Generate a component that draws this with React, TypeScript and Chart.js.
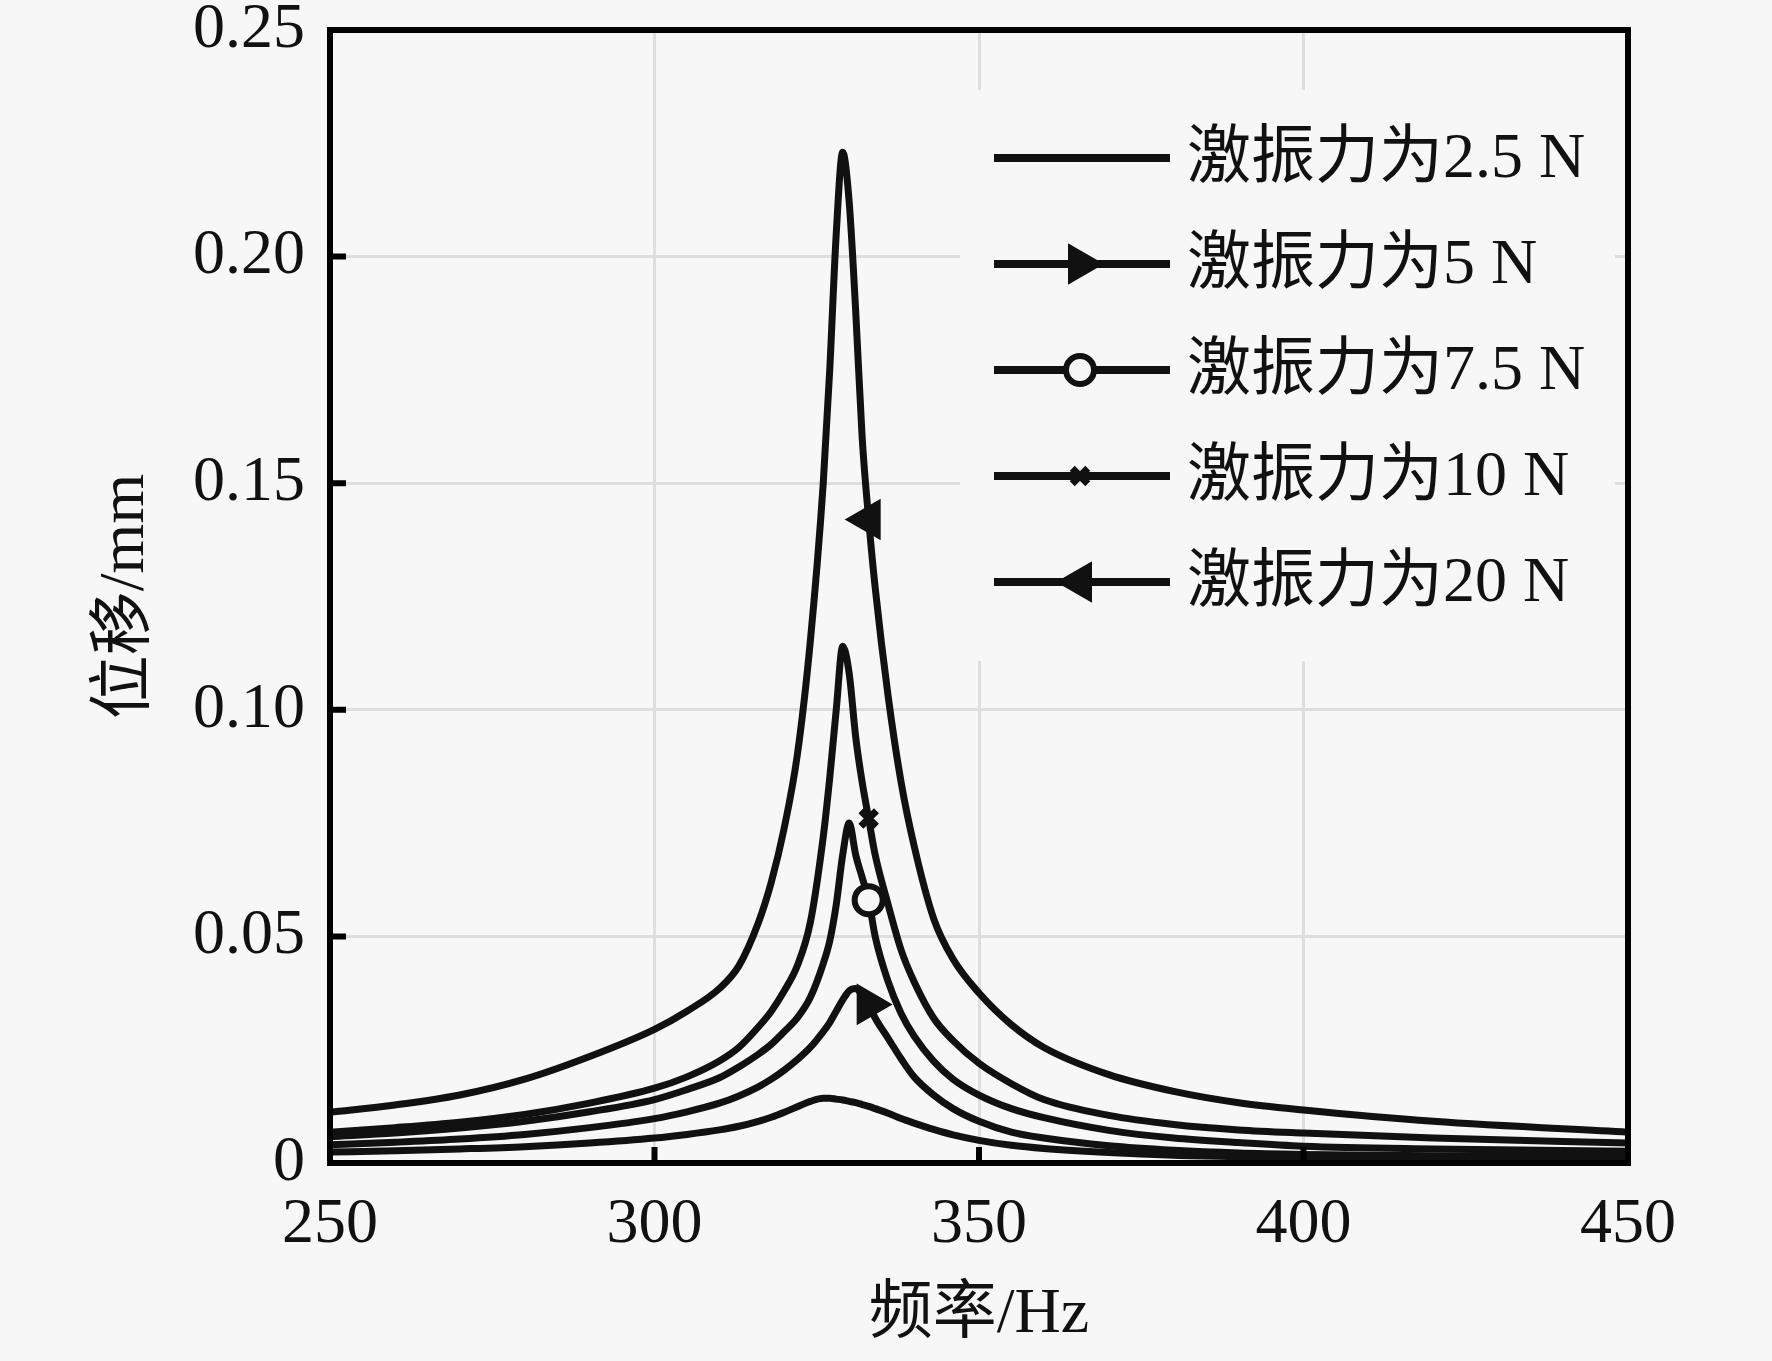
import { useEffect, useRef } from 'react';
import { Chart, ChartConfiguration, Plugin, registerables } from 'chart.js';
import { drawPoint } from 'chart.js/helpers';

Chart.register(...registerables);

// frequency grid (Hz), denser around the resonance
const frequencies = [
  250, 260, 270, 280, 290, 300, 305, 310, 313, 316, 318, 320, 322, 324, 326, 327, 328, 329,
  330, 331, 332, 333, 334, 336, 338, 340, 343, 346, 350, 355, 360, 370, 380, 390, 400, 420, 450,
];

// displacement (mm) for each excitation force
const force2p5 = [
  0.0024, 0.0027, 0.0031, 0.0036, 0.0044, 0.0055, 0.0063, 0.0073, 0.0081, 0.0092, 0.0101, 0.0112,
  0.0124, 0.0136, 0.0143, 0.0143, 0.0141, 0.0139, 0.0136, 0.0133, 0.0129, 0.0125, 0.012, 0.011,
  0.0098, 0.0088, 0.0074, 0.0062, 0.005, 0.0039, 0.0032, 0.0023, 0.0017, 0.0014, 0.0012, 0.0009,
  0.0007,
];
const force5 = [
  0.004, 0.0046, 0.0053, 0.0063, 0.0078, 0.0098, 0.0113, 0.0132, 0.0148, 0.0168, 0.0185, 0.0205,
  0.0228, 0.0255, 0.029, 0.031, 0.0335, 0.036, 0.038, 0.0385, 0.037, 0.035, 0.032, 0.0275, 0.023,
  0.019, 0.015, 0.012, 0.0092, 0.0068, 0.0055, 0.0038, 0.0028, 0.0022, 0.0019, 0.0016, 0.0014,
];
const force7p5 = [
  0.0058, 0.0066, 0.0077, 0.0092, 0.0113, 0.014, 0.0162, 0.0188, 0.0212, 0.024, 0.0262, 0.029,
  0.032, 0.0365, 0.044, 0.049, 0.057, 0.068, 0.075, 0.068, 0.063, 0.058, 0.05, 0.04, 0.033,
  0.028, 0.0225, 0.0185, 0.015, 0.012, 0.01, 0.0072, 0.0055, 0.0045, 0.0037, 0.0031, 0.0026,
];
const force10 = [
  0.0068, 0.0078, 0.009, 0.0107, 0.0132, 0.0165, 0.019, 0.0225, 0.0255, 0.03, 0.0335, 0.038,
  0.0435, 0.053, 0.072, 0.085, 0.1, 0.114, 0.108, 0.094, 0.084, 0.076, 0.068, 0.057, 0.047, 0.04,
  0.032, 0.027, 0.022, 0.0175, 0.014, 0.0105, 0.0085, 0.0073, 0.0066, 0.0055, 0.0044,
];
const force20 = [
  0.0112, 0.0128, 0.015, 0.0185, 0.0235, 0.0295, 0.0335, 0.0385, 0.0435, 0.053, 0.062, 0.074,
  0.09, 0.115, 0.15, 0.175, 0.205, 0.223, 0.212, 0.188, 0.16, 0.142, 0.127, 0.103, 0.084, 0.07,
  0.054, 0.045, 0.0375, 0.0305, 0.0255, 0.0195, 0.0158, 0.0133, 0.0117, 0.0092, 0.0068,
];

const seriesLabels = ['激振力为2.5 N', '激振力为5 N', '激振力为7.5 N', '激振力为10 N', '激振力为20 N'];
const xTicks = [250, 300, 350, 400, 450];
const yTicks = [0, 0.05, 0.1, 0.15, 0.2, 0.25];
const yTickLabels = ['0', '0.05', '0.10', '0.15', '0.20', '0.25'];
const markerFreq = 333;

const BG = '#f7f7f7';
const INK = '#111';
const FONT = '"Liberation Serif", "Noto Sans CJK SC", serif';

const markerIndex = frequencies.indexOf(markerFreq);

// marker look per series (none for 2.5 N)
const markers = [
  null,
  { pointStyle: 'triangle', rotation: 90, radius: 21, borderWidth: 3, fill: INK },
  { pointStyle: 'circle', rotation: 0, radius: 14, borderWidth: 6, fill: BG },
  { pointStyle: 'crossRot', rotation: 0, radius: 11, borderWidth: 7, fill: INK },
  { pointStyle: 'triangle', rotation: -90, radius: 21, borderWidth: 3, fill: INK },
];

const axesAndLegend: Plugin = {
  id: 'axesAndLegend',
  beforeDraw(chart) {
    const { ctx, width, height } = chart;
    ctx.save();
    ctx.fillStyle = BG;
    ctx.fillRect(0, 0, width, height);
    ctx.restore();
  },
  afterDatasetsDraw(chart) {
    const { ctx, chartArea: a, scales } = chart;
    ctx.save();

    // legend (box hides the grid behind it)
    ctx.fillStyle = BG;
    ctx.fillRect(a.left + 630, 90, 655, 571);
    ctx.font = `64px ${FONT}`;
    ctx.textBaseline = 'middle';
    ctx.textAlign = 'left';
    chart.data.datasets.forEach((ds, i) => {
      const y = 158 + i * 106;
      ctx.strokeStyle = INK;
      ctx.lineWidth = 8;
      ctx.beginPath();
      ctx.moveTo(a.left + 664, y);
      ctx.lineTo(a.left + 840, y);
      ctx.stroke();
      const m = markers[i];
      if (m) {
        ctx.fillStyle = m.fill;
        ctx.lineWidth = m.borderWidth;
        drawPoint(ctx, { pointStyle: m.pointStyle as any, rotation: m.rotation, radius: m.radius, borderWidth: m.borderWidth }, a.left + 750, y);
      }
      ctx.fillStyle = INK;
      ctx.fillText(ds.label as string, a.left + 857, y + 2);
    });

    // box frame and inward ticks
    ctx.strokeStyle = '#000';
    ctx.lineWidth = 6;
    ctx.strokeRect(a.left, a.top, a.right - a.left, a.bottom - a.top);
    ctx.beginPath();
    yTicks.forEach((t) => {
      const py = scales.y.getPixelForValue(t);
      ctx.moveTo(a.left, py);
      ctx.lineTo(a.left + 16, py);
    });
    xTicks.forEach((t) => {
      const px = scales.x.getPixelForValue(t);
      ctx.moveTo(px, a.bottom);
      ctx.lineTo(px, a.bottom - 16);
    });
    ctx.stroke();
    ctx.restore();
  },
};

export default function App() {
  const canvasRef = useRef<HTMLCanvasElement>(null);
  const chartRef = useRef<Chart | null>(null);

  useEffect(() => {
    if (!canvasRef.current) return;
    if (chartRef.current) chartRef.current.destroy();

    const series = [force2p5, force5, force7p5, force10, force20];

    const config: ChartConfiguration = {
      type: 'line',
      data: {
        datasets: series.map((vals, i) => {
          const m = markers[i];
          return {
            label: seriesLabels[i],
            data: frequencies.map((f, j) => ({ x: f, y: vals[j] })),
            borderColor: INK,
            borderWidth: 7,
            cubicInterpolationMode: 'monotone',
            pointStyle: (m ? m.pointStyle : 'circle') as any,
            pointRotation: m ? m.rotation : 0,
            pointRadius: (c: any) => (m && c.dataIndex === markerIndex ? m.radius : 0),
            pointBorderWidth: m ? m.borderWidth : 0,
            pointBorderColor: INK,
            pointBackgroundColor: m ? m.fill : INK,
            fill: false,
          };
        }) as any,
      },
      options: {
        responsive: true,
        maintainAspectRatio: false,
        animation: false,
        layout: { padding: { top: 30, right: 144, left: 0, bottom: 0 } },
        plugins: {
          legend: { display: false },
          tooltip: { enabled: false },
        },
        scales: {
          x: {
            type: 'linear',
            min: 250,
            max: 450,
            afterBuildTicks: (s) => {
              s.ticks = xTicks.map((v) => ({ value: v }));
            },
            afterFit: (s) => {
              s.height = 198;
              s.paddingLeft = 0;
              s.paddingRight = 0;
            },
            grid: { color: '#dedede', lineWidth: 3, drawTicks: false },
            border: { display: false },
            ticks: {
              color: INK,
              padding: 24,
              maxRotation: 0,
              font: { family: FONT, size: 64 },
            },
            title: {
              display: true,
              text: '频率/Hz',
              color: INK,
              font: { family: FONT, size: 64 },
              padding: { top: 0, bottom: 7 },
            },
          },
          y: {
            type: 'linear',
            min: 0,
            max: 0.25,
            afterBuildTicks: (s) => {
              s.ticks = yTicks.map((v) => ({ value: v }));
            },
            afterFit: (s) => {
              s.width = 330;
              s.paddingTop = 0;
              s.paddingBottom = 0;
            },
            grid: { color: '#dedede', lineWidth: 3, drawTicks: false },
            border: { display: false },
            ticks: {
              color: INK,
              padding: 25,
              font: { family: FONT, size: 64 },
              callback: (v) => {
                const k = yTicks.findIndex((t) => Math.abs(t - Number(v)) < 1e-9);
                return k >= 0 ? yTickLabels[k] : '';
              },
            },
            title: {
              display: true,
              text: '位移/mm',
              color: INK,
              font: { family: FONT, size: 64 },
              padding: { top: 88, bottom: 0 },
            },
          },
        },
      },
      plugins: [axesAndLegend],
    };

    chartRef.current = new Chart(canvasRef.current, config);

    return () => {
      if (chartRef.current) {
        chartRef.current.destroy();
        chartRef.current = null;
      }
    };
  }, []);

  return (
    <div style={{ position: 'absolute', left: 0, top: 0, width: 1772, height: 1361, background: BG }}>
      <canvas ref={canvasRef}></canvas>
    </div>
  );
}
